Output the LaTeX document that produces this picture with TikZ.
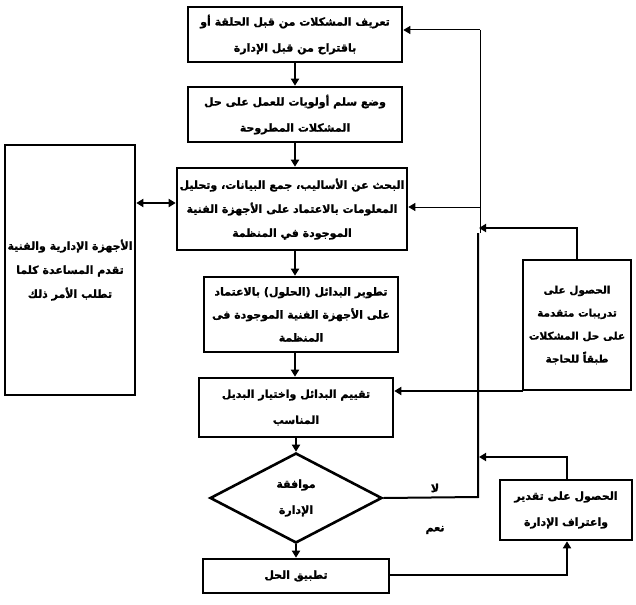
\documentclass[tikz,border=0pt]{standalone}
\usepackage{fontspec}
\newfontfamily\arabicfont[Script=Arabic, BoldFeatures={FakeBold=1.3}]{DejaVu Sans}
\TeXXeTstate=1
\usetikzlibrary{shapes.geometric,arrows.meta}
\newcommand{\RL}[1]{\beginR #1\endR}
\tikzset{
  box/.style={draw, line width=2.6pt, rectangle, align=center, inner sep=2pt,
    font=\arabicfont\bfseries\fontsize{11}{26}\selectfont},
  thinbox/.style={box, line width=1.1pt},
  lbl/.style={font=\arabicfont\bfseries\fontsize{11}{26}\selectfont},
  tip/.style={-{Triangle[length=7pt,width=8pt]}},
  conn/.style={line width=2pt, tip},
  thinconn/.style={line width=1pt, tip},
  plain/.style={line width=2pt},
  plainthin/.style={line width=1pt},
}
\begin{document}
\begin{tikzpicture}[x=1pt,y=-1pt]
\useasboundingbox (0,0) rectangle (636,604);
\node[box, minimum width=214pt, minimum height=55pt] (b1) at (295,34.5)
  {\RL{تعريف المشكلات من قبل الحلقة أو}\\\RL{باقتراح من قبل الإدارة}};
\node[box, minimum width=214pt, minimum height=55pt] (b2) at (295,114.5)
  {\RL{وضع سلم أولويات للعمل على حل}\\\RL{المشكلات المطروحة}};
\node[box, minimum width=230pt, minimum height=82pt, font=\arabicfont\bfseries\fontsize{11}{24}\selectfont] (b3) at (292,209)
  {\RL{البحث عن الأساليب، جمع البيانات، وتحليل}\\\RL{المعلومات بالاعتماد على الأجهزة الفنية}\\\RL{الموجودة في المنظمة}};
\node[box, minimum width=194pt, minimum height=75pt, font=\arabicfont\bfseries\fontsize{11}{23}\selectfont] (b4) at (301,314.5)
  {\RL{تطوير البدائل (الحلول) بالاعتماد}\\\RL{على الأجهزة الفنية الموجودة فى}\\\RL{المنظمة}};
\node[box, minimum width=194pt, minimum height=59pt] (b5) at (296,407.5)
  {\RL{تقييم البدائل واختيار البديل}\\\RL{المناسب}};
\node[box, diamond, aspect=1.9, minimum width=172pt, minimum height=90pt, inner sep=0pt] (d) at (296,498)
  {\RL{موافقة}\\\RL{الإدارة}};
\node[box, minimum width=186pt, minimum height=34pt] (b6) at (296,576)
  {\RL{تطبيق الحل}};
\node[box, minimum width=130pt, minimum height=250pt, font=\arabicfont\bfseries\fontsize{11}{24}\selectfont] (lf) at (70,270)
  {\RL{الأجهزة الإدارية والفنية}\\\RL{تقدم المساعدة كلما}\\\RL{تطلب الأمر ذلك}};
\node[thinbox, minimum width=108pt, minimum height=130pt, font=\arabicfont\bfseries\fontsize{10.5}{23}\selectfont] (tr) at (577,325)
  {\RL{الحصول على}\\\RL{تدريبات متقدمة}\\\RL{على حل المشكلات}\\\RL{طبقاً للحاجة}};
\node[box, minimum width=132pt, minimum height=60pt] (ap) at (566,510)
  {\RL{الحصول على تقدير}\\\RL{واعتراف الإدارة}};
\node[lbl] (no) at (435,488) {\RL{لا}};
\node[lbl] (yes) at (435,530) {\RL{نعم}};
% coordinates
\coordinate (fTop) at (480,30);
\coordinate (fMid) at (480,207);
\coordinate (fLow) at (480,233);
\coordinate (vTop) at (478,233);
\coordinate (vBot) at (478,497);
\coordinate (trUp) at (577,228);
\coordinate (trJoin) at (479,228);
\coordinate (b6R) at (567,575);
\coordinate (apUp) at (567,457);
\coordinate (apJoin) at (479,457);
\coordinate (trBL) at (523,391);
% vertical chain
\draw[conn] (b1.south) -- (b2.north);
\draw[conn] (b2.south) -- (b3.north -| b2.south);
\draw[conn] (b3.south -| b2.south) -- (b4.north -| b2.south);
\draw[conn] (b4.south -| b2.south) -- (b5.north -| b2.south);
\draw[conn] (b5.south) -- (d.north);
\draw[conn] (d.south) -- (b6.north);
% left double arrow
\draw[line width=2pt, {Triangle[length=7pt,width=8pt]}-{Triangle[length=7pt,width=8pt]}] (lf.east |- 0,203) -- (b3.west |- 0,203);
% feedback thin lines
\draw[plainthin] (fLow) -- (fTop);
\draw[thinconn] (fTop) -- (b1.east |- fTop);
\draw[thinconn] (fMid) -- (b3.east |- fMid);
% thick return from diamond
\draw[plain] (d.east) -- (vBot) -- (vTop);
% training box
\draw[conn] (tr.north) -- (trUp) -- (trJoin);
\draw[conn] (trBL) -- (b5.east |- trBL);
% apply -> appreciation
\draw[conn] (b6.east |- b6R) -- (b6R) -- (ap.south -| b6R);
\draw[conn] (ap.north -| apUp) -- (apUp) -- (apJoin);
\end{tikzpicture}
\end{document}
